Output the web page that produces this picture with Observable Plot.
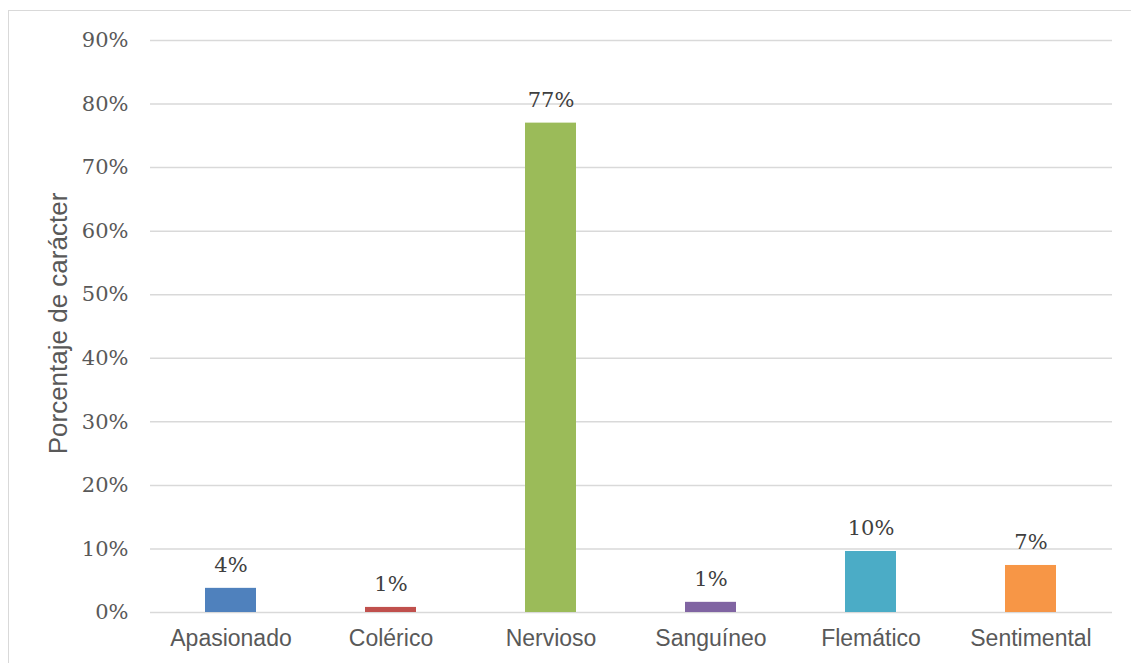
<!DOCTYPE html>
<html>
<head>
<meta charset="utf-8">
<script src="https://cdn.jsdelivr.net/npm/d3@7"></script>
<script src="https://cdn.jsdelivr.net/npm/@observablehq/plot@0.6"></script>
<style>
  html, body { margin: 0; padding: 0; background: #fff; overflow: hidden; }
  #wrap { position: relative; width: 1131px; height: 663px; overflow: hidden; }
  #border { position: absolute; left: 8px; top: 10px; width: 1300px; height: 800px; border: 1.5px solid #d9d9d9; box-sizing: border-box; pointer-events: none; }
  #chart { position: absolute; left: 0; top: 0; }
</style>
</head>
<body>
<div id="wrap"><div id="border"></div><div id="chart"></div></div>
<script>
const categories = ["Apasionado", "Colérico", "Nervioso", "Sanguíneo", "Flemático", "Sentimental"];
const values = [0.038, 0.008, 0.770, 0.016, 0.096, 0.074];
const valueLabels = ["4%", "1%", "77%", "1%", "10%", "7%"];
const colors = ["#4f81bd", "#c0504d", "#9bbb59", "#8064a2", "#4bacc6", "#f79646"];
const yTicks = [0, 0.1, 0.2, 0.3, 0.4, 0.5, 0.6, 0.7, 0.8, 0.9];
const yTitle = "Porcentaje de carácter";

const data = categories.map((c, i) => ({ cat: c, value: values[i], label: valueLabels[i], color: colors[i] }));

const serif = "'DejaVu Serif', serif";
const sans = "'Liberation Sans', Arial, sans-serif";

const plot = Plot.plot({
  width: 1131,
  height: 663,
  marginLeft: 150,
  marginRight: 19,
  marginTop: 40,
  marginBottom: 51,
  style: { background: "transparent", overflow: "visible" },
  x: { domain: categories, paddingInner: 0.68, paddingOuter: 0.34, label: null },
  y: { domain: [0, 0.9], label: null },
  marks: [
    Plot.gridY(yTicks, { stroke: "#d9d9d9", strokeOpacity: 1, strokeWidth: 1.5 }),
    Plot.barY(data, { x: "cat", y: "value", fill: "color" }),
    Plot.text(data, { x: "cat", y: "value", text: "label", dy: -16, lineAnchor: "bottom", fontFamily: serif, fontSize: 21, fill: "#404040" }),
    Plot.axisY(yTicks, { tickSize: 0, tickPadding: 22, tickFormat: d => Math.round(d * 100) + "%", fontFamily: serif, fontSize: 21, color: "#595959", label: null }),
    Plot.axisX({ tickSize: 0, tickPadding: 17, fontFamily: sans, fontSize: 23, color: "#595959", label: null }),
    Plot.text([yTitle], { text: d => d, frameAnchor: "left", dx: -92, dy: -3, rotate: -90, lineAnchor: "middle", textAnchor: "middle", fontFamily: sans, fontSize: 26, fill: "#595959" })
  ]
});
document.getElementById("chart").appendChild(plot);
</script>
</body>
</html>
